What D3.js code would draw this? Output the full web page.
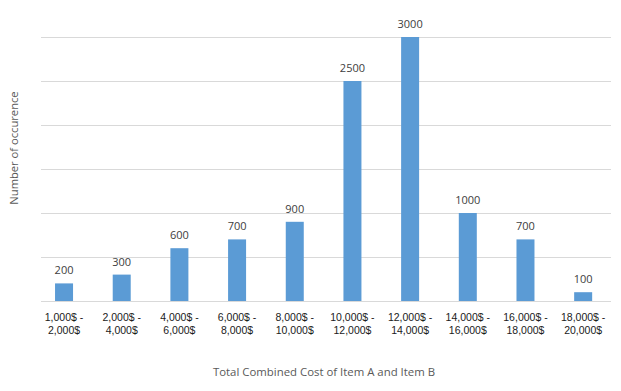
<!DOCTYPE html>
<html>
<head>
<meta charset="utf-8">
<script src="https://cdn.jsdelivr.net/npm/d3@7"></script>
<style>
  body { margin: 0; background: #fff; }
  svg { display: block; }
</style>
</head>
<body>
<svg id="chart" width="621" height="391"></svg>
<script>
// cost ranges (two lines each) and how often each occured
var rangeFrom = ["1,000$ -", "2,000$ -", "4,000$ -", "6,000$ -", "8,000$ -", "10,000$ -", "12,000$ -", "14,000$ -", "16,000$ -", "18,000$ -"];
var rangeTo = ["2,000$", "4,000$", "6,000$", "8,000$", "10,000$", "12,000$", "14,000$", "16,000$", "18,000$", "20,000$"];
var occurences = [200, 300, 600, 700, 900, 2500, 3000, 1000, 700, 100];
var yTicks = [0, 500, 1000, 1500, 2000, 2500, 3000];

var svg = d3.select("#chart");

var x = d3.scaleBand()
    .domain(d3.range(occurences.length))
    .range([35.2, 612]);

var y = d3.scaleLinear()
    .domain([0, 3000])
    .range([301, 37]);

var barW = 18;

// gridlines
svg.selectAll("line.grid")
    .data(yTicks)
    .join("line")
    .attr("class", "grid")
    .attr("x1", 41)
    .attr("x2", 611)
    .attr("y1", d => Math.round(y(d)) + 0.5)
    .attr("y2", d => Math.round(y(d)) + 0.5)
    .attr("stroke", "#d9d9d9")
    .attr("stroke-width", 1);

// bars
svg.selectAll("rect.bar")
    .data(occurences)
    .join("rect")
    .attr("class", "bar")
    .attr("x", (d, i) => x(i) + x.bandwidth() / 2 - barW / 2)
    .attr("width", barW)
    .attr("y", d => y(d))
    .attr("height", d => y(0) - y(d))
    .attr("fill", "#5b9bd5");

// value labels
svg.selectAll("text.val")
    .data(occurences)
    .join("text")
    .attr("class", "val")
    .attr("x", (d, i) => x(i) + x.bandwidth() / 2)
    .attr("y", d => y(d) - 9)
    .attr("text-anchor", "middle")
    .attr("font-family", "'Open Sans', sans-serif")
    .attr("font-size", 11)
    .attr("fill", "#404040")
    .text(d => d);

// category labels
var cats = svg.selectAll("text.cat")
    .data(rangeFrom)
    .join("text")
    .attr("class", "cat")
    .attr("text-anchor", "middle")
    .attr("font-family", "'Liberation Sans', Arial, sans-serif")
    .attr("font-size", 10.5)
    .attr("fill", "#1a1a1a");

cats.append("tspan")
    .attr("x", (d, i) => x(i) + x.bandwidth() / 2)
    .attr("y", 321)
    .text(d => d);

cats.append("tspan")
    .attr("x", (d, i) => x(i) + x.bandwidth() / 2)
    .attr("y", 334)
    .text((d, i) => rangeTo[i]);

// axis titles
svg.append("text")
    .attr("x", 324)
    .attr("y", 376)
    .attr("text-anchor", "middle")
    .attr("font-family", "'Open Sans', sans-serif")
    .attr("font-size", 11.4)
    .attr("fill", "#595959")
    .text("Total Combined Cost of Item A and Item B");

svg.append("text")
    .attr("transform", "translate(18,148) rotate(-90)")
    .attr("text-anchor", "middle")
    .attr("font-family", "'Open Sans', sans-serif")
    .attr("font-size", 11.2)
    .attr("fill", "#595959")
    .text("Number of occurence");
</script>
</body>
</html>
